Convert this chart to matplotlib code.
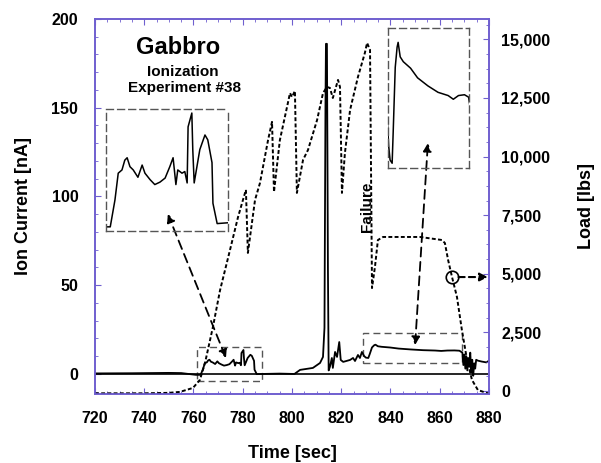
import matplotlib
matplotlib.use('Agg')
import matplotlib.pyplot as plt
from matplotlib.patches import Rectangle
from matplotlib.ticker import MultipleLocator, FuncFormatter

plt.rcParams['font.family'] = ['Liberation Sans', 'DejaVu Sans']
plt.rcParams['font.weight'] = 'bold'

# ion current (nA) vs time (sec)
ion_t = [720, 735, 750, 755, 758, 761, 762.2, 762.9, 763.9, 764.6, 765.4, 766.0, 766.5,
         767.1, 767.8, 768.8, 769.7, 770.3, 771.4, 772.4, 773.5, 774.6, 775.6, 776.3,
         776.9, 777.3, 778.2, 778.8, 779.3, 779.5, 780.3, 780.5, 780.8, 782.0, 783.1,
         783.7, 784.6, 784.8, 785.7, 788, 795, 801, 803.3, 808.5, 811.4, 812.6, 813.2,
         813.6, 813.8, 814.2, 814.4, 814.6, 814.9, 815.4, 816.2, 816.6, 817.5, 818.3,
         819.2, 819.8, 820.8, 823.6, 824.8, 825.6, 826.8, 827.6, 828.4, 829.3, 830.0,
         831.0, 831.5, 832.5, 833.4, 833.9, 834.9, 836.4, 839.9, 843.3, 848.3, 853.2,
         858.1, 860.6, 863.1, 866.0, 868.0, 869.2, 869.6, 870.0, 870.4, 870.8, 871.2,
         871.6, 872.0, 872.4, 872.8, 873.2, 873.6, 874.0, 874.4, 874.8, 875.5, 877,
         879, 880]
ion_na = [0.3, 0.4, 0.6, 0.5, 0.0, -0.5, -0.5, -0.5, 2.8, 6.1, 6.5, 7.7, 8.0,
          6.9, 6.5, 5.6, 7.1, 6.1, 5.3, 4.7, 5.0, 5.5, 6.9, 8.0,
          4.7, 6.5, 6.1, 6.3, 4.9, 11.8, 13.5, 9.0, 4.9, 9.0, 10.8,
          10.2, 7.4, 2.4, -0.1, 0.0, 0.2, 0.0, 2.3, 3.4, 6.2, 9.6, 26,
          150, 186, 186, 126, 60, 2, 4, 9, 3.4, 12.4, 9.6,
          18, 7.9, 6.8, 7.9, 9, 7.3, 10.7, 9, 12.4, 10.1, 9.2,
          9.0, 10.9, 14.95, 16.2, 16.5, 15.6, 15.3, 14.9, 14.3, 13.8, 13.4,
          13.2, 12.97, 13.2, 13.25, 13.1, 12, 5, 11, 3, 10, 2,
          9, 4, 12, 1, 8, -1, 6, 3, 8, 7.5, 7,
          6.5, 7.5]

# load (lbs) vs time (sec)
load_t = [720, 740, 750, 754.5, 759.8, 762.6, 764.7, 767.9, 770.8, 774.8, 778.1, 780.1,
          781.3, 782.1, 785.0, 787.0, 790.3, 791.9, 792.7, 795.1, 798.0, 799.2, 800.0,
          801.2, 802.0, 804.5, 806.5, 810.2, 812.6, 814.2, 815.4, 816.6, 818.7, 819.5,
          820.3, 821.5, 823.6, 826.8, 829.6, 830.5, 831.7, 832.5, 833.7, 834.9, 837.0,
          852, 860.9, 862.1, 863.4, 865.0, 867.0, 869.0, 871.1, 873.1, 875.5, 879.2, 880]
load_lbs = [-100, -100, -80, -40, 130, 470, 1200, 2730, 4300, 6000, 7420, 8150,
            8580, 5890, 8150, 8870, 10710, 11480, 8490, 10710, 12120, 12710, 12540,
            12800, 8450, 9860, 10280, 11560, 12710, 12970, 12930, 12500, 13270, 12970,
            8450, 10150, 11990, 13400, 14420, 14850, 14550, 4390, 5290, 6440, 6570,
            6570, 6440, 6310, 5590, 4860, 4010, 2600, 1320, 470, 40, -90, -100]

spine_col = '#6f5fcf'
box_col = '#555555'

fig = plt.figure(figsize=(6.01, 4.63), dpi=100)
ax = fig.add_axes([0.158, 0.149, 0.6556, 0.81])
ax2 = ax.twinx()

ax.axhline(0, color='black', lw=1.2)
ax.plot(ion_t, ion_na, color='black', lw=1.3)
ax2.plot(load_t, load_lbs, color='black', lw=1.4, linestyle=(0, (2, 1.2)))

ax.set_xlim(720, 880)
ax.set_ylim(-11.3, 200)
ax2.set_ylim(-130, 15870)

ax.xaxis.set_major_locator(MultipleLocator(20))
ax.xaxis.set_minor_locator(MultipleLocator(5))
ax.yaxis.set_major_locator(MultipleLocator(50))
ax.yaxis.set_minor_locator(MultipleLocator(10))
ax2.yaxis.set_major_locator(MultipleLocator(2500))
ax2.yaxis.set_minor_locator(MultipleLocator(625))
ax2.yaxis.set_major_formatter(FuncFormatter(lambda v, p: f'{v:,.0f}'))

for a in (ax, ax2):
    for s in a.spines.values():
        s.set_color(spine_col)
        s.set_linewidth(1.2)
ax.tick_params(which='both', direction='in', top=True, right=False, color=spine_col,
               labelsize=11.5, pad=12)
ax.tick_params(which='major', length=4)
ax.tick_params(which='minor', length=2.5)
ax2.tick_params(which='both', direction='in', color=spine_col, labelsize=11.5, pad=9)
ax2.tick_params(which='major', length=4)
ax2.tick_params(which='minor', length=2.5)

ax.set_xlabel('Time [sec]', fontsize=13, fontweight='bold', labelpad=14)
ax.set_ylabel('Ion Current [nA]', fontsize=13, fontweight='bold', labelpad=14)
ax2.set_ylabel('Load [lbs]', fontsize=13, fontweight='bold', labelpad=20)

ax.text(753.7, 184, 'Gabbro', fontsize=17, fontweight='bold', ha='center', va='center')
ax.text(755.7, 170, 'Ionization', fontsize=11, fontweight='bold', ha='center', va='center')
ax.text(756.5, 161, 'Experiment #38', fontsize=11, fontweight='bold', ha='center', va='center')
ax.text(830.5, 94, 'Failure', fontsize=11, fontweight='bold', rotation=90,
        ha='center', va='center', bbox=dict(fc='white', ec='none', pad=0.5), zorder=5)

# small dashed boxes on the main curve
ax.add_patch(Rectangle((761.4, -3.9), 26.4, 19.1, fill=False, ec=box_col, lw=1,
                       linestyle=(0, (5, 3))))
ax.add_patch(Rectangle((828.8, 6.2), 40.2, 16.9, fill=False, ec=box_col, lw=1,
                       linestyle=(0, (5, 3))))

# magnified insets
ins1 = ax.inset_axes([724.5, 80.6, 49.5, 68.7], transform=ax.transData)
ins2 = ax.inset_axes([839, 116, 32.9, 79], transform=ax.transData)
for ins, xl, yl in ((ins1, (762, 788), (-1, 14)), (ins2, (829, 868.2), (8.7, 17.4))):
    ins.plot(ion_t, ion_na, color='black', lw=1.1)
    ins.set_xlim(*xl)
    ins.set_ylim(*yl)
    ins.set_xticks([])
    ins.set_yticks([])
    ins.set_facecolor('none')
    for s in ins.spines.values():
        s.set_color(box_col)
        s.set_linewidth(1)
        s.set_linestyle((0, (5, 3)))

# dashed arrows
arr = dict(arrowstyle='<|-|>', linestyle=(0, (5, 3)), lw=1.3, color='black',
           mutation_scale=12, shrinkA=0, shrinkB=0)
ax.annotate('', xy=(749.6, 90.1), xytext=(773.2, 9.0), arrowprops=arr)
ax.annotate('', xy=(855.2, 130.1), xytext=(850.0, 16.3), arrowprops=arr)

ax2.plot([865.0], [4860], marker='o', ms=9, mfc='none', mec='black', mew=1.2)
ax2.annotate('', xy=(879.6, 4860), xytext=(867.6, 4860),
             arrowprops=dict(arrowstyle='-|>', linestyle=(0, (3, 2)), lw=1.5,
                             color='black', mutation_scale=12, shrinkA=0, shrinkB=0))

plt.savefig('out.png', dpi=100)
